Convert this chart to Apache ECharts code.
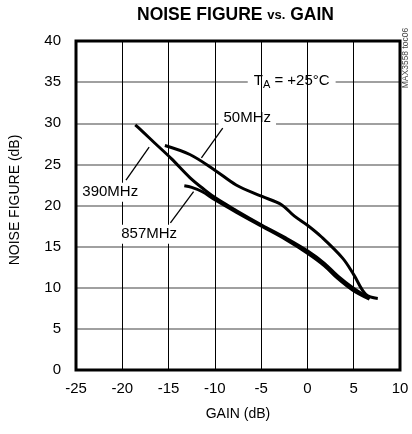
<!DOCTYPE html>
<html><head><meta charset="utf-8">
<script src="https://cdn.jsdelivr.net/npm/echarts@6/dist/echarts.min.js"></script>
<style>html,body{margin:0;padding:0;background:#fff}#c{width:412px;height:434px}</style>
</head><body><div id="c"></div>
<script>
// ---- data ----
const gain390 = [-18.6,-18.0,-16.5,-14.7,-12.7,-11.1,-9.9,-7.7,-4.9,-2.4,0,1.8,3.3,4.9,6.7];
const nf390   = [29.8,29.2,27.6,25.7,23.4,21.9,20.9,19.4,17.6,16.1,14.5,13.0,11.4,10.0,8.7];
const gain857 = [-13.3,-12.5,-11.4,-10,-7.7,-4.9,-2.4,0,1.8,3.3,4.9,6.7];
const nf857   = [22.4,22.2,21.7,20.7,19.2,17.45,15.9,14.2,12.7,11.1,9.7,8.6];
const gain50  = [-15.4,-12.7,-10,-7.7,-4.9,-2.8,-1.4,0,1.5,3.8,5.0,6.3,7.6];
const nf50    = [27.3,26.2,24.3,22.5,21.1,20.1,18.7,17.6,16.2,13.6,11.6,9.2,8.7];

const xMin = -25, xMax = 10, xStep = 5;
const yMin = 0, yMax = 40, yStep = 5;

const titleText = 'NOISE FIGURE vs. GAIN';
const xName = 'GAIN (dB)';
const yName = 'NOISE FIGURE (dB)';
const tagText = 'MAX3558 toc06';

// annotation labels (data coordinates)
const noteTA   = {text: 'TA = +25°C', at: [-1.7, 35.2]};
const note50   = {text: '50MHz',  at: [-6.5, 30.7], from: [-9.15, 29.4], to: [-11.45, 25.8]};
const note390  = {text: '390MHz', at: [-21.3, 21.6], from: [-19.6, 23.1], to: [-17.1, 27.1]};
const note857  = {text: '857MHz', at: [-17.1, 16.5], from: [-14.8, 17.9], to: [-12.3, 21.7]};

const F = '"Liberation Sans Narrow","Liberation Sans",Arial,sans-serif';
const zip = (a, b) => a.map((v, i) => [v, b[i]]);

const chart = echarts.init(document.getElementById('c'), null, {renderer: 'canvas'});

function curve(name, g, n) {
  return {
    name, type: 'line', data: zip(g, n), smooth: 0.35, symbol: 'none', z: 4,
    lineStyle: {color: '#000', width: 3}, animation: false, silent: true
  };
}
const lblBase = {show: true, position: 'inside', color: '#000', fontFamily: F, fontSize: 15,
  backgroundColor: '#fff', formatter: p => p.name};

chart.setOption({
  animation: false,
  grid: {left: 71, right: 12, top: 41, bottom: 64, show: true, borderColor: '#000', borderWidth: 3, z: 10},
  xAxis: {
    type: 'value', min: xMin, max: xMax, interval: xStep, z: 3,
    name: xName, nameLocation: 'middle', nameGap: 37,
    nameTextStyle: {fontFamily: F, fontSize: 14, color: '#000'},
    axisLine: {show: false}, axisTick: {show: false},
    axisLabel: {fontFamily: F, fontSize: 15, color: '#000', margin: 11},
    splitLine: {show: true, showMinLine: false, showMaxLine: false, lineStyle: {color: '#000', width: 1}}
  },
  yAxis: {
    type: 'value', min: yMin, max: yMax, interval: yStep, z: 0,
    name: yName, nameLocation: 'middle', nameGap: 54,
    nameTextStyle: {fontFamily: F, fontSize: 14, color: '#000', padding: [0, 0, 0, 11]},
    axisLine: {show: false}, axisTick: {show: false},
    axisLabel: {fontFamily: F, fontSize: 15, color: '#000', margin: 15},
    splitLine: {show: true, showMinLine: false, showMaxLine: false, lineStyle: {color: '#808080', width: 1.5}}
  },
  graphic: [{
    type: 'text', x: 235.5, y: 15,
    style: {text: '{b|NOISE FIGURE }{s|vs.}{b| GAIN}', align: 'center', verticalAlign: 'middle',
      rich: {
        b: {fontFamily: F, fontWeight: 'bold', fontSize: 17.5, fill: '#000'},
        s: {fontFamily: F, fontWeight: 'bold', fontSize: 13, fill: '#000'}
      }}
  }, {
    type: 'text', x: 406, y: 58, rotation: Math.PI / 2,
    style: {text: tagText, fontFamily: F, fontSize: 8.5, fill: '#444', align: 'center', verticalAlign: 'middle'}
  }],
  series: [
    curve('390MHz', gain390, nf390),
    curve('857MHz', gain857, nf857),
    curve('50MHz', gain50, nf50),
    {
      type: 'line', data: [], silent: true,
      markPoint: {
        z: 1, symbol: 'circle', symbolSize: 1, itemStyle: {color: 'rgba(0,0,0,0)'}, silent: true, animation: false,
        data: [
          {name: noteTA.text, coord: noteTA.at, label: Object.assign({}, lblBase, {
            formatter: '{t|T}{s|A}{t| = +25°C}', padding: [0, 6],
            rich: {t: {fontFamily: F, fontSize: 15, color: '#000', lineHeight: 19},
                   s: {fontFamily: F, fontSize: 11, color: '#000', lineHeight: 10, verticalAlign: 'bottom'}}
          })},
          {name: note50.text, coord: note50.at, label: Object.assign({}, lblBase, {padding: [1, 5]})}
        ]
      }
    },
    {
      type: 'line', data: [], silent: true,
      markPoint: {
        z: 6, symbol: 'circle', symbolSize: 1, itemStyle: {color: 'rgba(0,0,0,0)'}, silent: true, animation: false,
        data: [
          {name: note390.text, coord: note390.at, label: Object.assign({}, lblBase, {padding: [2, 1]})},
          {name: note857.text, coord: note857.at, label: Object.assign({}, lblBase, {padding: [2, 1]})}
        ]
      },
      markLine: {
        z: 7, silent: true, animation: false, symbol: ['none', 'arrow'], symbolSize: [0, 11],
        lineStyle: {color: '#000', width: 1.3, type: 'solid'}, label: {show: false},
        data: [note50, note390, note857].map(n => [{coord: n.from}, {coord: n.to}])
      }
    }
  ]
});
</script></body></html>
